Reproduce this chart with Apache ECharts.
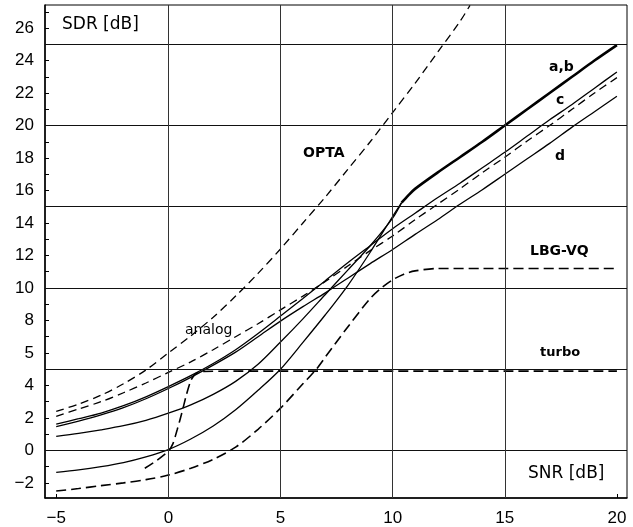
<!DOCTYPE html>
<html>
<head>
<meta charset="utf-8">
<script src="https://cdn.jsdelivr.net/npm/echarts@6/dist/echarts.min.js"></script>
<style>
  html, body { margin: 0; padding: 0; background: #fff; }
  #chart { width: 633px; height: 527px; }
</style>
</head>
<body>
<div id="chart"></div>
<script>
// axis ticks / labels
const xTickValues = [-5, 0, 5, 10, 15, 20];
const xTickLabels = ["\u22125", "0", "5", "10", "15", "20"];
const yTickValues = [-2, 0, 2, 4, 6, 8, 10, 12, 14, 16, 18, 20, 22, 24, 26];
const yTickLabels = ["\u22122", "0", "2", "4", "5", "8", "10", "12", "14", "16", "18", "20", "22", "24", "26"];
const yMinorTicks = [-2, -1, 0, 1, 2, 3, 4, 5, 6, 7, 8, 9, 10, 11, 12, 13, 14, 15, 16, 17, 18, 19, 20, 21, 22, 23, 24, 25, 26, 27];
const xGrid = [0, 5, 10, 15];
const yGrid = [0, 5, 10, 15, 20, 25];

// SNR [dB] -> SDR [dB]
const opta = [[-5, 2.4], [-4, 2.85], [-3, 3.4], [-2, 4.1], [-1, 4.95], [0, 6.0], [1, 7.05], [2, 8.2],
  [3, 9.5], [4, 10.9], [5, 12.4], [6, 14.0], [7, 15.6], [8, 17.3], [9, 19.0], [10, 20.8],
  [11, 22.6], [12, 24.5], [13, 26.4], [13.45, 27.4]];
const analog = [[-5, 2.1], [-4, 2.55], [-3, 3.0], [-2, 3.55], [-1, 4.15], [0, 4.8], [1, 5.45], [2, 6.2],
  [3, 7.0], [4, 7.8], [5, 8.65], [6, 9.5], [7, 10.4], [8, 11.35], [9, 12.3], [10, 13.2], [11, 14.2],
  [12, 15.15], [13, 16.1], [14, 17.1], [15, 18.05], [16, 19.05], [17, 20.0], [18, 21.0], [19, 22.0], [20, 22.95]];
const curveA = [[-5, 0.86], [-4, 1.05], [-3, 1.27], [-2, 1.52], [-1, 1.85], [0, 2.29], [1, 2.8], [2, 3.45],
  [3, 4.25], [4, 5.3], [5, 6.67], [6, 8.1], [7, 9.6], [8, 11.1], [9, 12.6], [10, 14.3], [10.4, 15.25]];
const curveB = [[-5, -1.35], [-4, -1.2], [-3, -1.0], [-2, -0.75], [-1, -0.4], [0, 0.05], [1, 0.7], [2, 1.5],
  [3, 2.5], [4, 3.7], [5, 5.0], [6, 6.65], [7, 8.35], [8, 10.15], [9, 12.2], [10, 14.4], [10.4, 15.25]];
const curveAB = [[10.4, 15.25], [10.7, 15.7], [11, 16.1], [12, 17.1], [13, 18.05], [14, 19.0], [15, 20.0],
  [16, 21.0], [17, 22.0], [18, 23.0], [19, 24.0], [20, 24.95]];
const curveC = [[-5, 1.62], [-4, 1.95], [-3, 2.3], [-2, 2.75], [-1, 3.3], [0, 3.93], [1, 4.6], [2, 5.35],
  [3, 6.2], [4, 7.2], [5, 8.27], [6, 9.35], [7, 10.45], [8, 11.55], [9, 12.6], [10, 13.65], [11, 14.6],
  [12, 15.55], [13, 16.45], [14, 17.4], [15, 18.35], [16, 19.35], [17, 20.35], [18, 21.3], [19, 22.3], [20, 23.3]];
const curveD = [[-5, 1.47], [-4, 1.8], [-3, 2.18], [-2, 2.63], [-1, 3.18], [0, 3.81], [1, 4.5], [2, 5.25],
  [3, 6.05], [4, 7.0], [5, 7.96], [6, 8.85], [7, 9.7], [8, 10.6], [9, 11.5], [10, 12.37], [11, 13.3],
  [12, 14.2], [13, 15.15], [14, 16.05], [15, 17.0], [16, 17.95], [17, 18.9], [18, 19.9], [19, 20.85], [20, 21.8]];
const lbgvq = [[-5, -2.5], [-4, -2.35], [-3, -2.17], [-2, -2.0], [-1, -1.8], [0, -1.52], [1, -1.1], [2, -0.55],
  [3, 0.2], [4, 1.3], [5, 2.6], [6, 4.1], [6.6, 5.0], [7, 5.75], [8, 7.6], [9, 9.35], [9.5, 10.0],
  [10, 10.5], [10.5, 10.85], [11, 11.05], [12, 11.2], [14, 11.2], [20, 11.2]];
const turbo = [[-1.05, -1.1], [-0.5, -0.6], [0, -0.05], [0.2, 0.4], [0.4, 1.3], [0.6, 2.3], [0.8, 3.4],
  [1.0, 4.3], [1.2, 4.7], [1.5, 4.85], [3, 4.88], [20, 4.88]];

const chart = echarts.init(document.getElementById("chart"));
const font = "Liberation Sans";
const labelFont = "DejaVu Sans";

function curve(name, data, opts) {
  opts = opts || {};
  return {
    name: name,
    type: "line",
    data: data,
    symbol: "none",
    smooth: opts.smooth === undefined ? 0.3 : opts.smooth,
    z: 3,
    lineStyle: {
      color: "#000",
      width: opts.width || 1.3,
      type: opts.dashed ? (opts.dash || [8, 5]) : "solid"
    }
  };
}

const series = [
  curve("OPTA", opta, { dashed: true }),
  curve("analog", analog, { dashed: true }),
  curve("a", curveA),
  curve("b", curveB),
  curve("a,b", curveAB, { width: 2.6 }),
  curve("c", curveC),
  curve("d", curveD),
  curve("LBG-VQ", lbgvq, { dashed: true, width: 1.6, dash: [10, 5] }),
  curve("turbo", turbo, { dashed: true, width: 1.6, dash: [10, 5], smooth: 0.2 })
];
// grid lines
series.push({
  type: "line",
  data: [],
  silent: true,
  z: 1,
  markLine: {
    silent: true,
    symbol: ["none", "none"],
    label: { show: false },
    animation: false,
    lineStyle: { type: "solid", color: "#111", width: 1 },
    data: yGrid.map(v => ({ yAxis: v })).concat(xGrid.map(v => ({ xAxis: v, lineStyle: { color: "#333", width: 1 } })))
  }
});

chart.setOption({
  animation: false,
  backgroundColor: "#fff",
  grid: {
    left: 45, right: 6, top: 5, bottom: 28,
    show: true, borderColor: "#000", borderWidth: 1
  },
  xAxis: {
    type: "value",
    min: -5.5,
    max: 20.45,
    axisLine: { show: true, onZero: false, lineStyle: { color: "#000", width: 1.5 } },
    axisTick: { show: true, inside: true, length: 4, customValues: xTickValues, lineStyle: { color: "#000" } },
    axisLabel: {
      customValues: xTickValues,
      margin: 12,
      color: "#000",
      fontFamily: font,
      fontSize: 17,
      formatter: v => xTickLabels[xTickValues.indexOf(v)]
    },
    splitLine: { show: false }
  },
  yAxis: {
    type: "value",
    min: -2.93,
    max: 27.42,
    axisLine: { show: true, onZero: false, lineStyle: { color: "#000", width: 1.5 } },
    axisTick: { show: true, inside: true, length: 4, customValues: yMinorTicks, lineStyle: { color: "#000" } },
    axisLabel: {
      customValues: yTickValues,
      margin: 11,
      color: "#000",
      fontFamily: font,
      fontSize: 17,
      formatter: v => yTickLabels[yTickValues.indexOf(v)]
    },
    splitLine: { show: false }
  },
  graphic: [
    { type: "text", left: 62, top: 16, style: { text: "SDR [dB]", font: "17px " + labelFont, fill: "#000" } },
    { type: "text", left: 528, top: 465, style: { text: "SNR [dB]", font: "17px " + labelFont, fill: "#000" } },
    { type: "text", left: 303, top: 146, style: { text: "OPTA", font: "bold 14px " + labelFont, fill: "#000" } },
    { type: "text", left: 549, top: 60, style: { text: "a,b", font: "bold 14px " + labelFont, fill: "#000" } },
    { type: "text", left: 556, top: 93, style: { text: "c", font: "bold 14px " + labelFont, fill: "#000" } },
    { type: "text", left: 555, top: 149, style: { text: "d", font: "bold 14px " + labelFont, fill: "#000" } },
    { type: "text", left: 530, top: 244, style: { text: "LBG-VQ", font: "bold 14px " + labelFont, fill: "#000" } },
    { type: "text", left: 185, top: 323, style: { text: "analog", font: "14px " + labelFont, fill: "#000" } },
    { type: "text", left: 540, top: 346, style: { text: "turbo", font: "bold 13px " + labelFont, fill: "#000" } }
  ],
  series: series
});
</script>
</body>
</html>
